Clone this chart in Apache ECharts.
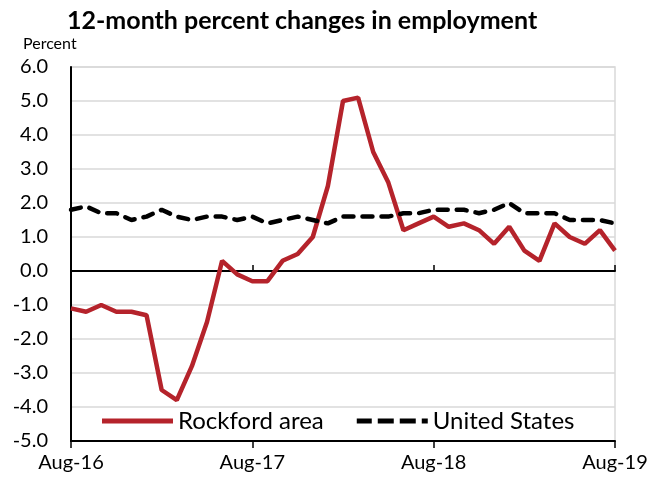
<!DOCTYPE html>
<html>
<head>
<meta charset="utf-8">
<script src="https://cdn.jsdelivr.net/npm/echarts@6/dist/echarts.min.js"></script>
<style>
  html, body { margin: 0; padding: 0; background: #fff; }
  #chart { width: 651px; height: 477px; }
</style>
</head>
<body>
<div id="chart"></div>
<script>
// monthly categories, Aug-16 .. Aug-19
var months = [
  'Aug-16','Sep-16','Oct-16','Nov-16','Dec-16','Jan-17','Feb-17','Mar-17','Apr-17','May-17','Jun-17','Jul-17',
  'Aug-17','Sep-17','Oct-17','Nov-17','Dec-17','Jan-18','Feb-18','Mar-18','Apr-18','May-18','Jun-18','Jul-18',
  'Aug-18','Sep-18','Oct-18','Nov-18','Dec-18','Jan-19','Feb-19','Mar-19','Apr-19','May-19','Jun-19','Jul-19',
  'Aug-19'
];
var rockford = [
  -1.1, -1.2, -1.0, -1.2, -1.2, -1.3, -3.5, -3.8, -2.8, -1.5, 0.3, -0.1,
  -0.3, -0.3, 0.3, 0.5, 1.0, 2.5, 5.0, 5.1, 3.5, 2.6, 1.2, 1.4,
  1.6, 1.3, 1.4, 1.2, 0.8, 1.3, 0.6, 0.3, 1.4, 1.0, 0.8, 1.2,
  0.6
];
var unitedStates = [
  1.8, 1.9, 1.7, 1.7, 1.5, 1.6, 1.8, 1.6, 1.5, 1.6, 1.6, 1.5,
  1.6, 1.4, 1.5, 1.6, 1.5, 1.4, 1.6, 1.6, 1.6, 1.6, 1.7, 1.7,
  1.8, 1.8, 1.8, 1.7, 1.8, 2.0, 1.7, 1.7, 1.7, 1.5, 1.5, 1.5,
  1.4
];

var font = 'Lato';
var gridGrey = '#d9d9d9';
var red = '#B5232B';

var myChart = echarts.init(document.getElementById('chart'));
myChart.setOption({
  animation: false,
  title: [
    {
      text: '12-month percent changes in employment',
      left: 62, top: 3,
      textStyle: { fontFamily: font, fontSize: 25, fontWeight: 'bold', color: '#000' }
    },
    {
      text: 'Percent',
      left: 18, top: 31,
      textStyle: { fontFamily: font, fontSize: 16, fontWeight: 'normal', color: '#000' }
    }
  ],
  legend: {
    left: 97, top: 404,
    itemWidth: 71, itemHeight: 5, itemGap: 33,
    textStyle: { fontFamily: font, fontSize: 24, color: '#000' },
    data: [
      { name: 'Rockford area', icon: 'path://M0,0H71V5H0Z' },
      { name: 'United States', icon: 'path://M0,0H15V5H0Z M21,0H37V5H21Z M43,0H59V5H43Z M65,0H71V5H65Z' }
    ]
  },
  grid: {
    left: 71, right: 36, top: 67, bottom: 36,
    show: true, borderColor: gridGrey, borderWidth: 1.5
  },
  xAxis: [
    { // labels along the bottom
      type: 'category', data: months, boundaryGap: false,
      axisLine: { show: false, onZero: false },
      axisTick: { show: false },
      axisLabel: { interval: 11, margin: 12, fontFamily: font, fontSize: 20, color: '#000' }
    },
    { // zero line, ticks above
      type: 'category', data: months, boundaryGap: false, position: 'bottom',
      axisLine: { onZero: true, lineStyle: { color: '#000', width: 2 } },
      axisTick: { interval: 11, inside: true, length: 6, lineStyle: { color: '#000', width: 1.5 } },
      axisLabel: { show: false }
    },
    { // zero line, ticks below
      type: 'category', data: months, boundaryGap: false, position: 'bottom',
      axisLine: { onZero: true, lineStyle: { color: '#000', width: 2 } },
      axisTick: { interval: 11, inside: false, length: 7, lineStyle: { color: '#000', width: 1.5 } },
      axisLabel: { show: false }
    }
  ],
  yAxis: {
    type: 'value', min: -5, max: 6, interval: 1,
    axisLine: { show: true, onZero: false, lineStyle: { color: '#000', width: 2 } },
    axisTick: { show: false },
    axisLabel: {
      margin: 23, fontFamily: font, fontSize: 20, color: '#000',
      formatter: function (v) { return v.toFixed(1); }
    },
    splitLine: { lineStyle: { color: gridGrey, width: 1.5 } }
  },
  series: [
    {
      name: 'Rockford area', type: 'line', data: rockford,
      showSymbol: false, symbol: 'none',
      itemStyle: { color: red },
      lineStyle: { color: red, width: 4.5 }
    },
    {
      name: 'United States', type: 'line', data: unitedStates,
      showSymbol: false, symbol: 'none',
      itemStyle: { color: '#000' },
      lineStyle: { color: '#000', width: 4.5, type: [10, 9], cap: 'round' }
    }
  ]
});
</script>
</body>
</html>
